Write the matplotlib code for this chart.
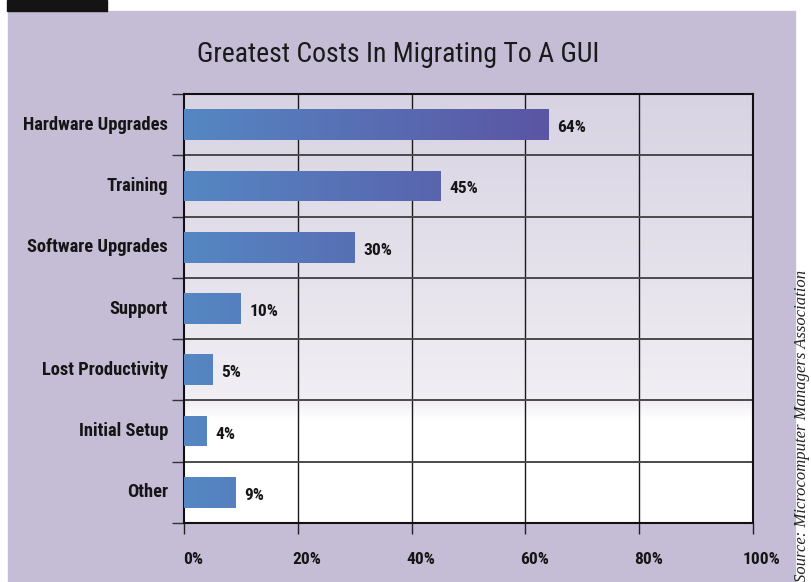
#!/usr/bin/env python
"""Greatest costs in migrating to a GUI: horizontal bar chart."""

import matplotlib

matplotlib.use("Agg")
import matplotlib.pyplot as plt  # noqa: E402
import numpy as np  # noqa: E402
from matplotlib import font_manager  # noqa: E402
from matplotlib.colors import LinearSegmentedColormap  # noqa: E402
from matplotlib.patches import Rectangle  # noqa: E402

categories = [
    "Hardware Upgrades",
    "Training",
    "Software Upgrades",
    "Support",
    "Lost Productivity",
    "Initial Setup",
    "Other",
]
values = [64, 45, 30, 10, 5, 4, 9]
xticks = [0, 20, 40, 60, 80, 100]
xtick_labels = ["0%", "20%", "40%", "60%", "80%", "100%"]

TITLE = "Greatest Costs In Migrating To A GUI"
SOURCE = "Source: Microcomputer Managers Association"

# pick a narrow face if one is installed
names = {f.name for f in font_manager.fontManager.ttflist}
narrow = [f for f in ["Liberation Sans Narrow", "DejaVu Sans Condensed", "Roboto Condensed",
                      "Open Sans Condensed"] if f in names]
NARROW = narrow[:1] + ["DejaVu Sans"]
STRETCH = "condensed"
PANEL = "#c5bdd6"

W, H = 812, 582
fig = plt.figure(figsize=(W / 100, H / 100), dpi=100)
fig.patch.set_facecolor("white")

# lavender panel and black tab in the corner
fig.patches.append(Rectangle((8 / W, 0), 787 / W, (H - 11) / H,
                             transform=fig.transFigure, color=PANEL, zorder=-2))
fig.patches.append(Rectangle((7 / W, (H - 11) / H), 100 / W, 11 / H,
                             transform=fig.transFigure, color="#141414", zorder=-2))

ax = fig.add_axes([184 / W, 59 / H, 569 / W, 429 / H])
n = len(categories)
ax.set_xlim(0, 100)
ax.set_ylim(n - 0.5, -0.5)

# background gradient: lavender-grey at top fading to white
bg = LinearSegmentedColormap.from_list(
    "bg", [(0, "#d8d3e3"), (0.4, "#e5e1eb"), (0.72, "#f1eff4"), (0.76, "#ffffff"), (1, "#ffffff")])
ax.imshow(np.linspace(0, 1, 256).reshape(-1, 1), cmap=bg, aspect="auto",
          extent=[0, 100, n - 0.5, -0.5], zorder=0)

# bars, filled with a blue -> violet gradient
bars = ax.barh(range(n), values, height=0.5, color="none", zorder=3)
grad = LinearSegmentedColormap.from_list("bar", ["#5587c3", "#5b55a4"])
for b, v in zip(bars, values):
    img = ax.imshow(np.linspace(0, 1, 256).reshape(1, -1), cmap=grad, aspect="auto",
                    extent=[0, 64, b.get_y() + b.get_height(), b.get_y()], zorder=3)
    img.set_clip_path(b)
    ax.text(v + 1.6, b.get_y() + b.get_height() / 2 + 0.05, f"{v}%", family=NARROW,
            fontstretch=STRETCH, fontweight="bold", fontsize=12.5, color="#151515",
            va="center", ha="left", zorder=4)

# grid
for x in xticks[1:-1]:
    ax.axvline(x, color="#1a1a1a", lw=1.0, zorder=2)
for k in range(n - 1):
    ax.axhline(k + 0.5, color="#4a4a4a", lw=1.4, zorder=2)

for s in ax.spines.values():
    s.set_color("#111111")
    s.set_linewidth(1.5)

ax.set_xticks(xticks)
ax.set_xticklabels([])
ax.set_yticks(np.arange(-0.5, n, 1.0))
ax.set_yticklabels([])
ax.tick_params(axis="x", direction="out", length=8, width=1.0, color="#222222")
ax.tick_params(axis="y", direction="out", length=9, width=1.0, color="#333333")

for x, lab in zip(xticks, xtick_labels):
    ax.annotate(lab, (x, n - 0.5), xytext=(9, -36), textcoords="offset pixels",
                family=NARROW, fontstretch=STRETCH, fontweight="bold", fontsize=12.5,
                color="#151515", ha="center", va="center", annotation_clip=False)

for i, lab in enumerate(categories):
    ax.annotate(lab, (0, i), xytext=(-16, 0), textcoords="offset pixels",
                family=NARROW, fontstretch=STRETCH, fontweight="bold", fontsize=13.3,
                color="#151515", ha="right", va="center", annotation_clip=False)

fig.text(398 / W, 1 - 55 / H, TITLE, family=NARROW, fontstretch=STRETCH, fontsize=20,
         color="#1a1a1a", ha="center", va="center")

fig.text(802 / W, 0.0, SOURCE, family=["Liberation Serif", "DejaVu Serif"], style="italic",
         fontsize=12, color="#222222", rotation=90, ha="center", va="bottom")

fig.savefig("out.png", dpi=100, facecolor=fig.get_facecolor())
